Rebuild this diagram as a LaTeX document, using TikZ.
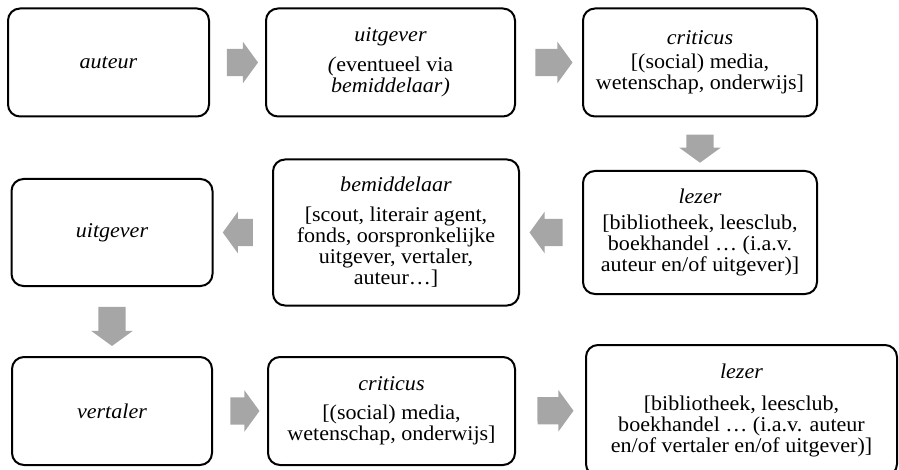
\documentclass[tikz,border=0pt]{standalone}
\usepackage{fontspec}
\setmainfont{Liberation Serif}[FakeStretch=1.05]
\usetikzlibrary{shapes.arrows}
\definecolor{pijlgrijs}{RGB}{166,166,166}
\tikzset{
  blok/.style={draw, line width=2pt, rounded corners=12pt, align=center,
    font=\fontsize{21}{21}\selectfont, inner sep=0pt},
  pijl/.style={single arrow, fill=pijlgrijs, draw=none, inner xsep=0pt, inner ysep=13.5pt,
    single arrow head extend=7pt, single arrow tip angle=108,
    minimum width=41pt, minimum height=#1, sloped, allow upside down},
  pijl/.default=33pt,
}
\begin{document}
\begin{tikzpicture}[x=1pt,y=-1pt]
\useasboundingbox (0,0) rectangle (899,470);
\clip (0,0) rectangle (899,470);
% rij 1
\node[blok, minimum width=201pt, minimum height=108pt] (auteur) at (108.5,62.5){\textit{auteur}};
\node[blok, minimum width=249pt, minimum height=108pt] (uitg1) at (390.5,62.5){\textit{uitgever}\\[9pt]\textit{(}eventueel via\\\textit{bemiddelaar)}};
\node[blok, minimum width=234pt, minimum height=108pt] (crit1) at (700,62.5){\textit{criticus}\\[3pt]{[}(social) media,\\wetenschap, onderwijs]};
\path (auteur) -- node[pijl=31pt]{} (uitg1);
\path (uitg1) -- node[pijl=37pt]{} (crit1);
% rij 2
\node[blok, minimum width=234pt, minimum height=123pt] (lez1) at (700,232.5){\textit{lezer}\\[5pt]{[}bibliotheek, leesclub,\\boekhandel … (i.a.v.\\auteur en/of uitgever)]};
\node[blok, minimum width=246pt, minimum height=146pt] (bem) at (396,232.5){\textit{bemiddelaar}\\[9pt]{[}scout, literair agent,\\fonds, oorspronkelijke\\uitgever, vertaler,\\auteur…]};
\node[blok, minimum width=201pt, minimum height=107pt] (uitg2) at (112,232.5){\textit{uitgever}};
\path (crit1) -- node[pijl=28pt]{} (lez1);
\path (lez1) -- node[pijl]{} (bem);
\path (bem) -- node[pijl=30pt]{} (uitg2);
% rij 3
\node[blok, minimum width=200pt, minimum height=108pt] (vert) at (112,411){\textit{vertaler}};
\node[blok, minimum width=247pt, minimum height=108pt] (crit2) at (391.5,411){\textit{criticus}\\[8pt]{[}(social) media,\\wetenschap, onderwijs]};
\node[blok, minimum width=311pt, minimum height=131pt] (lez2) at (741.5,410.5){\textit{lezer}\\[11pt]{[}bibliotheek, leesclub,\\boekhandel … (i.a.v. auteur\\en/of vertaler en/of uitgever)]};
\path (uitg2) -- node[pijl=39pt]{} (vert);
\path (vert) -- node[pijl=29pt]{} (crit2);
\path (crit2) -- node[pijl=36pt]{} (lez2);
\end{tikzpicture}
\end{document}
